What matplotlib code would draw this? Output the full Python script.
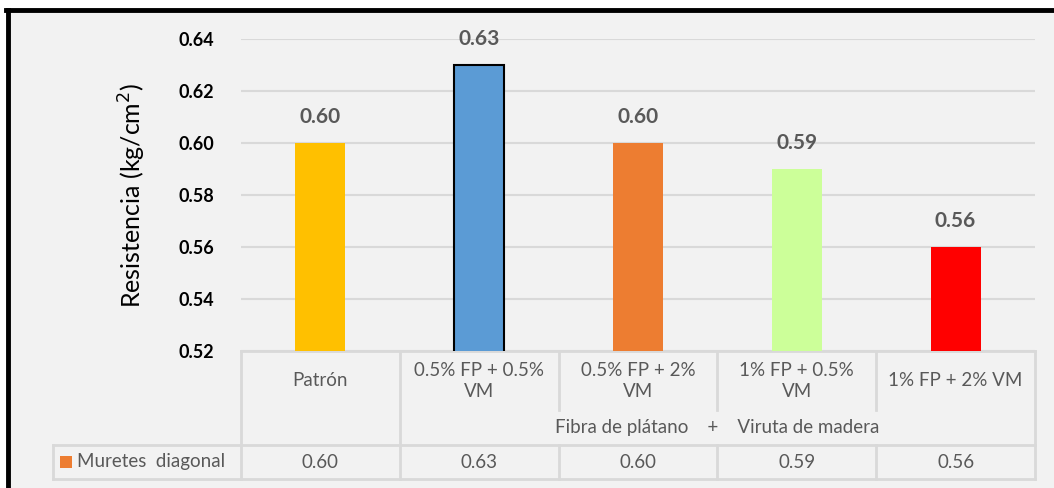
import matplotlib.pyplot as plt
from matplotlib.patches import Rectangle
from matplotlib.transforms import blended_transform_factory

# Diagonal-compression results for the masonry wallets
categories = ["Patrón", "0.5% FP + 0.5%\nVM", "0.5% FP + 2%\nVM", "1% FP + 0.5%\nVM", "1% FP + 2% VM"]
resistencia = [0.60, 0.63, 0.60, 0.59, 0.56]
bar_colors = ["#FFC000", "#5B9BD5", "#ED7D31", "#CCFF99", "#FF0000"]
series_name = "Muretes  diagonal"
group_label = "Fibra de plátano    +    Viruta de madera"
yticks = [0.52, 0.54, 0.56, 0.58, 0.60, 0.62, 0.64]

plt.rcParams['font.family'] = ['Lato', 'DejaVu Sans']
TXT = "#595959"
LINE = "#D9D9D9"
BG = "#F2F2F2"

W, H = 1054, 488
fig = plt.figure(figsize=(W / 100, H / 100), dpi=100)
fig.patch.set_facecolor("white")


def fy(py):
    return 1 - py / H


def fx(px):
    return px / W


# grey panel with the black frame on top/left
fig.patches.append(Rectangle((fx(6), 0), 1, fy(8), transform=fig.transFigure,
                             facecolor=BG, edgecolor="none", zorder=-2))
fig.add_artist(plt.Line2D([fx(8), fx(8)], [0, fy(10)], color="black", lw=3.5,
                          transform=fig.transFigure))
fig.add_artist(plt.Line2D([fx(6), 1], [fy(10), fy(10)], color="black", lw=3.5,
                          transform=fig.transFigure))

x0, x1 = 241, 1035
y_top, y_bot = 39, 351
ax = fig.add_axes([fx(x0), fy(y_bot), fx(x1) - fx(x0), fy(y_top) - fy(y_bot)])
ax.set_facecolor(BG)
ax.patch.set_alpha(0)

xs = list(range(len(categories)))
bars = ax.bar(xs, resistencia, width=0.315, color=bar_colors, zorder=3)
bars[1].set_edgecolor("black")
bars[1].set_linewidth(1.5)

for x, v in zip(xs, resistencia):
    ax.text(x, v + 0.0062, f"{v:.2f}", ha="center", va="bottom",
            fontsize=15, fontweight="bold", color=TXT)

ax.set_xlim(-0.5, len(categories) - 0.5)
ax.set_ylim(0.52, 0.64)
ax.set_yticks(yticks)
ax.set_yticklabels([f"{t:.2f}" for t in yticks], fontsize=13, fontweight="bold")
ax.set_xticks([])
ax.tick_params(axis="y", length=0, pad=19)
ax.yaxis.grid(True, color=LINE, lw=1.5, zorder=0)
for s in ax.spines.values():
    s.set_visible(False)
ax.set_ylabel("Resistencia (kg/cm$^2$)", fontsize=18, labelpad=22)

# data table below the plot
tr = blended_transform_factory(ax.transData, fig.transFigure)
left_cell = -0.5 - (x0 - 53) / ((x1 - x0) / len(categories))
r_top, r_split, r_mid, r_bot = 351, 410, 445, 479


def hline(xa, xb, py):
    ax.add_line(plt.Line2D([xa, xb], [fy(py), fy(py)], transform=tr, color=LINE,
                           lw=2, clip_on=False))


def vline(x, pa, pb):
    ax.add_line(plt.Line2D([x, x], [fy(pa), fy(pb)], transform=tr, color=LINE,
                           lw=2, clip_on=False))


xr = len(categories) - 0.5
hline(-0.5, xr, r_top)
hline(left_cell, xr, r_mid)
hline(left_cell, xr, r_bot)
vline(left_cell, r_mid, r_bot)
vline(-0.5, r_top, r_bot)
vline(0.5, r_top, r_bot)
for b in [1.5, 2.5, 3.5]:
    vline(b, r_top, r_split)
    vline(b, r_mid, r_bot)
vline(xr, r_top, r_bot)

for x, c in zip(xs, categories):
    ax.text(x, fy(381), c, transform=tr, ha="center", va="center",
            fontsize=13.5, color=TXT, linespacing=1.3)
ax.text(2.5, fy(427), group_label, transform=tr, ha="center", va="center",
        fontsize=13.5, color=TXT)
for x, v in zip(xs, resistencia):
    ax.text(x, fy(462), f"{v:.2f}", transform=tr, ha="center", va="center",
            fontsize=13.5, color=TXT)

fig.patches.append(Rectangle((fx(60), fy(468)), fx(12), fy(456) - fy(468),
                             transform=fig.transFigure, facecolor=bar_colors[2],
                             edgecolor="none"))
fig.text(fx(77), fy(462), series_name, ha="left", va="center", fontsize=13.5, color=TXT)

fig.savefig("out.png", dpi=100, facecolor=fig.get_facecolor())
